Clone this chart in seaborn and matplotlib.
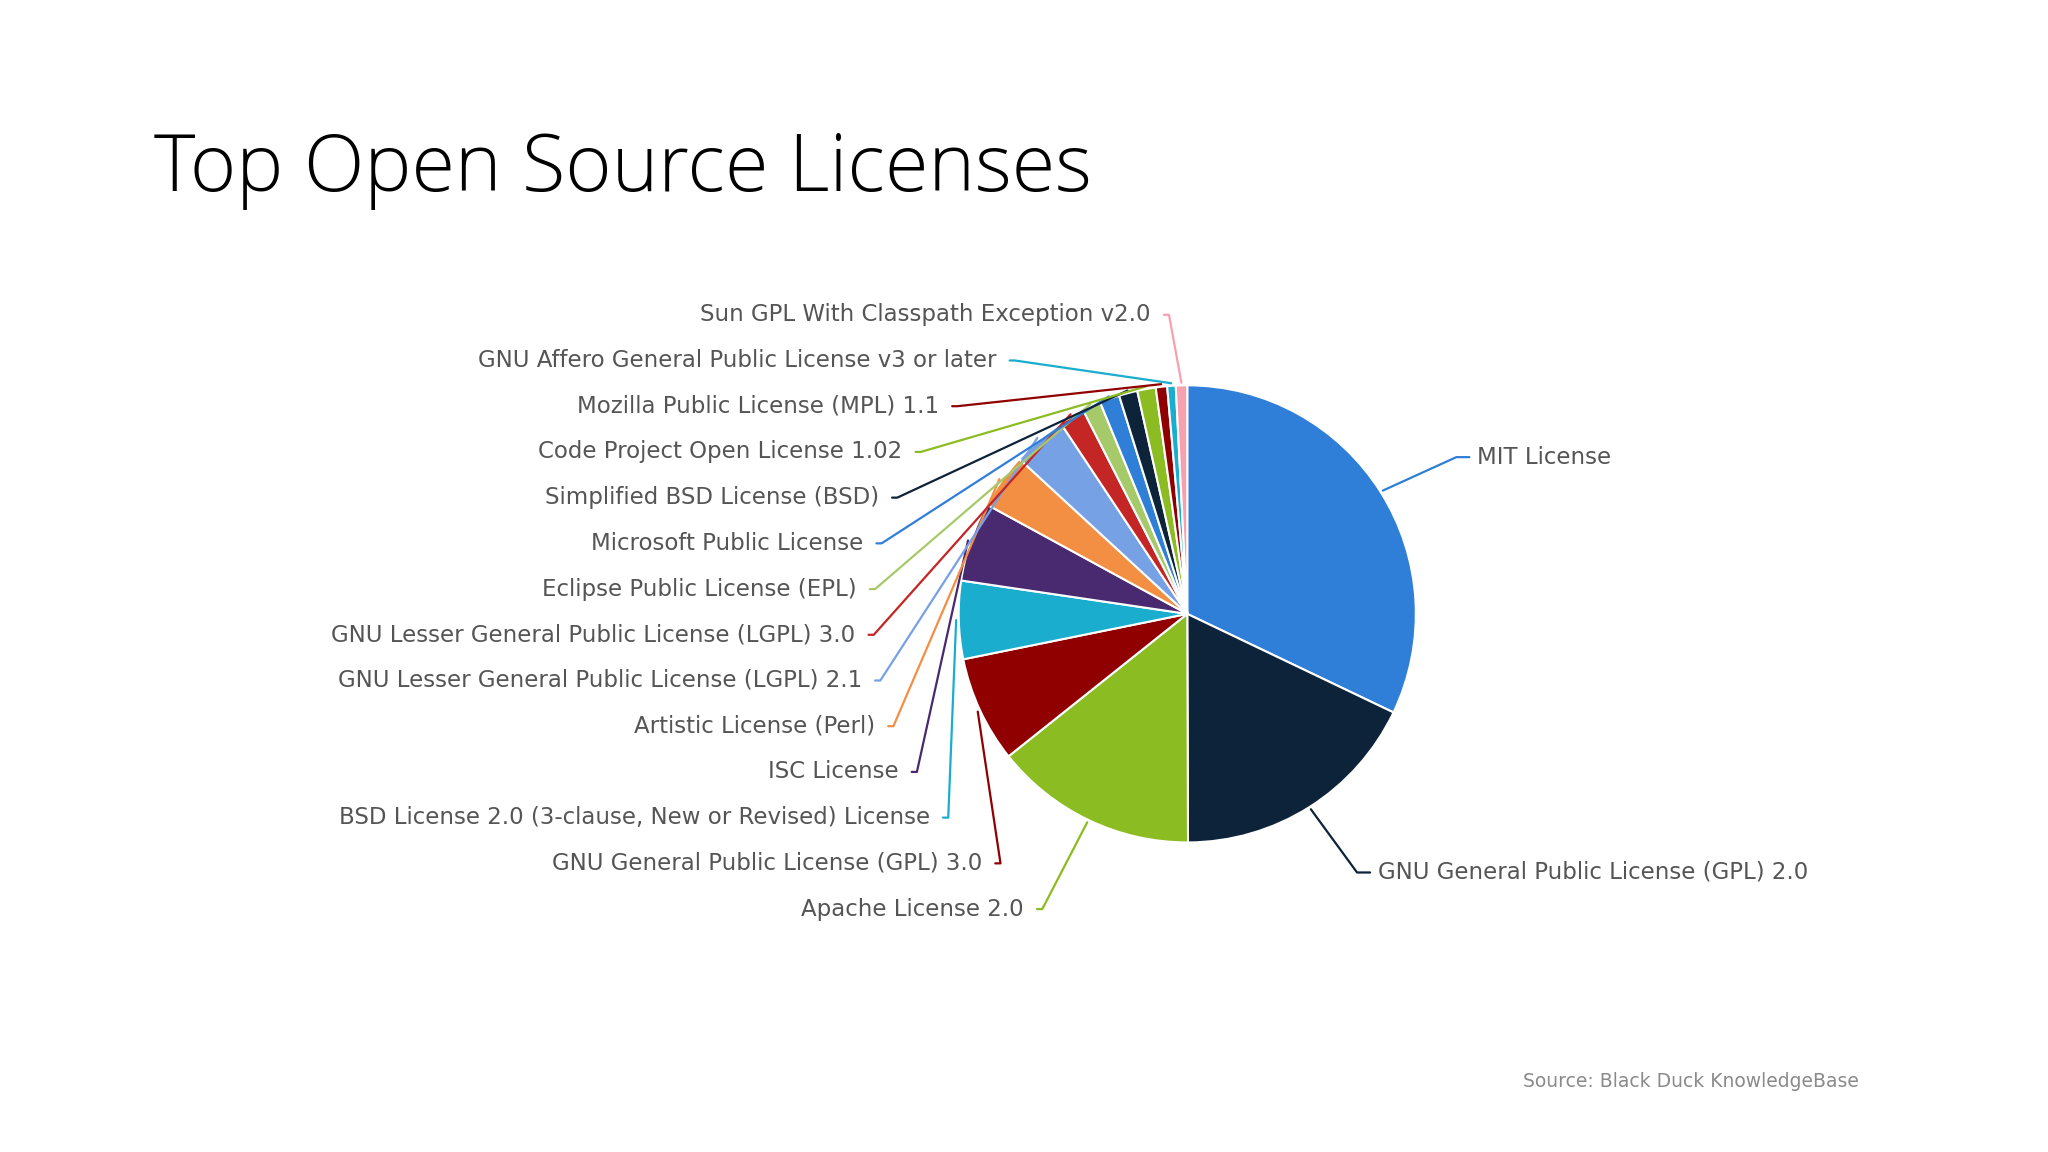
import numpy as np
import matplotlib.pyplot as plt
import seaborn as sns

sns.set_theme(style="white")
plt.rcParams['font.family'] = ['DejaVu Sans']

licenses = ["MIT License", "GNU General Public License (GPL) 2.0", "Apache License 2.0",
            "GNU General Public License (GPL) 3.0", "BSD License 2.0 (3-clause, New or Revised) License",
            "ISC License", "Artistic License (Perl)", "GNU Lesser General Public License (LGPL) 2.1",
            "GNU Lesser General Public License (LGPL) 3.0", "Eclipse Public License (EPL)",
            "Microsoft Public License", "Simplified BSD License (BSD)", "Code Project Open License 1.02",
            "Mozilla Public License (MPL) 1.1", "GNU Affero General Public License v3 or later",
            "Sun GPL With Classpath Exception v2.0"]
shares = [32.0, 17.8, 14.3, 7.5, 5.5, 5.6, 3.9, 3.8, 1.8, 1.3, 1.4, 1.3, 1.3, 0.8, 0.6, 0.8]
colors = ["#2f7ed8", "#0d233a", "#8bbc21", "#910000", "#1aadce", "#492970", "#f28f43",
          "#77a1e5", "#c42525", "#a6c96a", "#2f7ed8", "#0d233a", "#8bbc21", "#910000",
          "#1aadce", "#f7a1b0"]

# label anchor positions (reference pixel coords, 1568x882 frame): x = text end/start, y = centre
label_x = [1131, 1055, 784, 752, 712, 688, 670, 660, 655, 656, 661, 673, 691, 719, 763, 881]
label_y = [350, 668, 696, 661, 626, 591, 556, 521, 486, 451, 416, 381, 346, 311, 276, 241]

W, H = 1568, 882
cx, cy, R = 909, 470, 175

fig = plt.figure(figsize=(20.48, 11.52), dpi=100)
ax = fig.add_axes([0, 0, 1, 1])
ax.pie(shares, colors=colors, startangle=90, counterclock=False, center=(cx, H - cy),
       radius=R, wedgeprops=dict(edgecolor="white", linewidth=1.5))
ax.set_xlim(0, W)
ax.set_ylim(0, H)
ax.set_aspect("auto")
ax.axis("off")

total = sum(shares)
start = 90.0
for name, v, c, lx, ly in zip(licenses, shares, colors, label_x, label_y):
    mid = np.deg2rad(start - v / total * 360 / 2)
    start -= v / total * 360
    ex, ey = cx + (R + 2) * np.cos(mid), (H - cy) + (R + 2) * np.sin(mid)
    right = lx > cx
    tx = lx - 16 if right else lx + 14
    ax.plot([ex, tx, tx + (10 if right else -4)], [ey, H - ly, H - ly], color=c, lw=1.6)
    ax.text(lx, H - ly, name, ha="left" if right else "right", va="center",
            fontsize=16.5, color="#555555")

ax.text(118, H - 130, "Top Open Source Licenses", fontsize=57, color="black",
        ha="left", va="center", fontweight="light", family=["Open Sans", "DejaVu Sans"])
ax.text(1423, H - 828, "Source: Black Duck KnowledgeBase", fontsize=13.5,
        color="#8a8a8a", ha="right", va="center")

fig.savefig("out.png", dpi=100, facecolor="white")
